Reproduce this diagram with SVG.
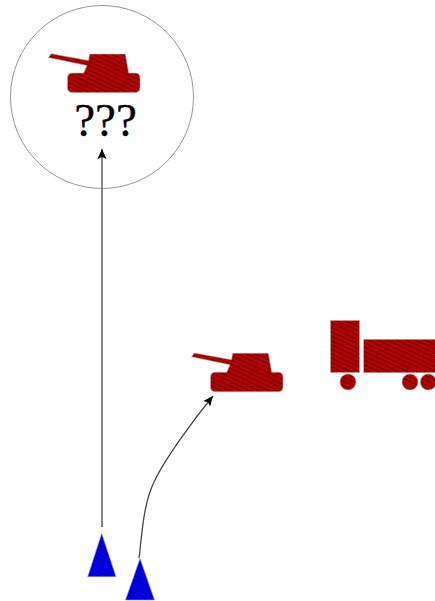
<svg xmlns="http://www.w3.org/2000/svg" width="435" height="601" viewBox="0 0 435 601">
<style>
.red{fill:url(#hr);stroke:#aaa;stroke-width:.6}
.blue{fill:url(#hb);stroke:#9999dd;stroke-width:.6}
.conn{fill:none;stroke:#444;stroke-width:1.3;marker-end:url(#arr)}
</style>
<defs>
<pattern id="hr" width="4" height="4" patternUnits="userSpaceOnUse" patternTransform="rotate(25)">
<rect width="4" height="4" fill="#b80000"/><rect width="4" height="1.2" fill="#6a0505"/>
</pattern>
<pattern id="hb" width="4" height="4" patternUnits="userSpaceOnUse" patternTransform="rotate(25)">
<rect width="4" height="4" fill="#0000e6"/><rect width="4" height="1" fill="#0000b0"/>
</pattern>
<marker id="arr" markerUnits="userSpaceOnUse" markerWidth="12" markerHeight="12" refX="10" refY="6" orient="auto">
<path d="M0 1.5L10 6L0 10.5L2 6Z" fill="#000"/>
</marker>
<g id="tank">
<path class="red" d="M191.5 356.8L194.3 353L231.5 359.8L232.7 353.3H268.3L271.7 372.3H278Q283 372.3 283 377.3V386.7Q283 391.7 278 391.7H215.5Q210.5 391.7 210.5 386.7V377.3Q210.5 372.3 215.5 372.3H226.7L230 364.8Z"/>
</g>
</defs>
<g id="connectors">
<path class="conn" d="M102 527V149"/>
<path class="conn" d="M139 558C142 535 143 505 154 482C165 458 195 418 213 396"/>
</g>
<g id="circle-zone">
<circle cx="102" cy="97" r="91.5" fill="none" stroke="#8a8a8a" stroke-width=".9"/>
</g>
<g id="tank-unknown">
<use href="#tank" x="-143" y="-299.2"/>
<text x="105.5" y="136" font-family="'Liberation Serif',serif" font-size="47" text-anchor="middle" fill="#000" stroke="#000" stroke-width=".3">???</text>
</g>
<g id="tank-target"><use href="#tank"/></g>
<g id="truck">
<rect class="red" x="330.5" y="320.5" width="29" height="52"/>
<rect class="red" x="363.7" y="339.3" width="72" height="33.4"/>
<circle class="red" cx="348" cy="382" r="8"/>
<circle class="red" cx="410" cy="382" r="8"/>
<circle class="red" cx="428.3" cy="382" r="8"/>
</g>
<g id="unit-a"><path class="blue" d="M101.7 533.5L116 576.7H87.7Z"/></g>
<g id="unit-b"><path class="blue" d="M140 558.5L154.5 600H125.5Z"/></g>
</svg>
